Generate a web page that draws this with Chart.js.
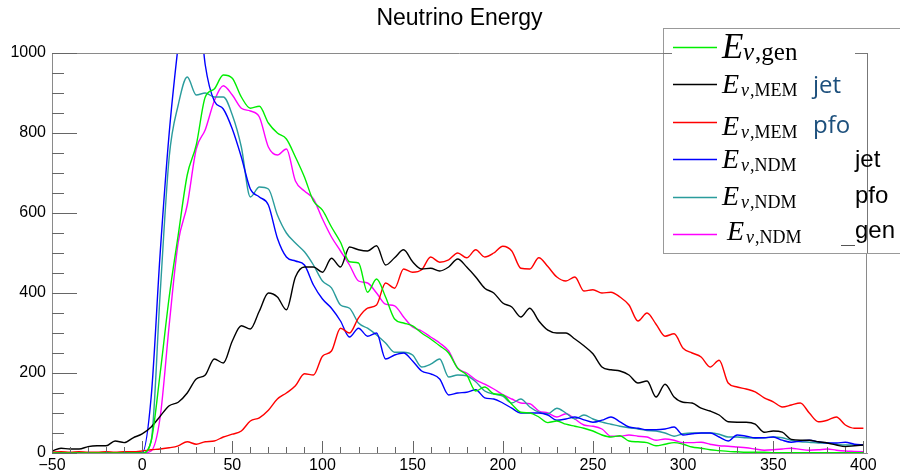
<!DOCTYPE html>
<html>
<head>
<meta charset="utf-8">
<script src="https://cdn.jsdelivr.net/npm/chart.js@4/dist/chart.umd.min.js"></script>
<style>
  html, body { margin: 0; padding: 0; background: #fff; overflow: hidden; }
  #wrap { position: relative; width: 900px; height: 472px; }
  #c { position: absolute; left: 0; top: 0; }
  #leg { position: absolute; left: 0; top: 0; pointer-events: none; }
</style>
</head>
<body>
<div id="wrap">
  <canvas id="c" width="900" height="472"></canvas>
  <svg id="leg" width="900" height="472" xmlns="http://www.w3.org/2000/svg"></svg>
</div>
<script>
// ---------------- DATA ----------------
const chartTitle = 'Neutrino Energy';
const xValues = [-50,-45,-40,-35,-30,-25,-20,-15,-10,-5,
  0,5,10,15,20,25,30,35,40,45,
  50,55,60,65,70,75,80,85,90,95,
  100,105,110,115,120,125,130,135,140,145,
  150,155,160,165,170,175,180,185,190,195,
  200,205,210,215,220,225,230,235,240,245,
  250,255,260,265,270,275,280,285,290,295,
  300,305,310,315,320,325,330,335,340,345,
  350,355,360,365,370,375,380,385,390,395,400];

const genE = [0,0,0,0,0,0,0,0,0,0,
  0,30,200,390,545,695,770,890,910,945,
  937,890,862,867,825,800,785,740,690,630,
  607,565,527,478,475,402,435,390,335,325,
  318,300,285,268,250,212,195,155,165,148,
  145,122,102,100,90,76,80,72,67,62,
  55,45,40,43,30,28,26,18,22,26,
  22,15,12,8,6,4,3,2,2,2,
  1,1,1,1,1,1,1,1,1,1,1];

const memJet = [5,12,10,10,16,18,18,30,26,38,
  48,65,92,118,127,150,185,195,235,225,
  280,318,310,355,400,390,358,440,465,465,
  452,487,465,515,508,505,518,470,488,508,
  478,460,462,455,465,485,465,440,412,400,
  375,365,340,362,330,307,300,300,285,268,
  248,215,208,205,195,175,180,140,172,140,
  127,125,112,105,95,78,77,77,72,52,
  55,52,34,32,32,28,25,20,16,18,20];

const memPfo = [2,3,2,3,2,2,3,2,3,3,
  5,8,10,13,18,28,22,28,30,40,
  47,55,80,88,107,135,150,168,198,195,
  242,255,312,300,338,362,370,425,412,460,
  452,458,490,477,483,500,488,508,490,500,
  517,505,462,460,488,466,440,430,440,405,
  408,400,402,390,370,330,350,322,292,298,
  262,250,240,215,232,175,165,160,153,138,
  128,115,120,125,100,78,82,90,70,62,62];

const ndmJet = [0,0,0,0,0,0,0,0,0,0,
  0,140,500,800,1020,1200,1180,970,880,860,
  810,740,660,640,620,537,490,480,470,420,
  385,362,330,290,312,292,300,235,245,250,
  230,205,198,185,145,150,152,158,138,135,
  125,112,100,100,100,95,82,85,90,83,
  77,82,90,78,65,62,58,58,60,65,
  45,48,50,50,40,30,45,42,38,38,
  40,32,27,30,32,28,25,25,27,22,20];

const ndmPfo = [0,0,0,0,0,0,0,0,0,0,
  0,30,400,740,870,940,895,900,890,890,
  845,765,640,665,660,595,550,525,503,470,
  430,413,370,362,325,312,295,275,252,252,
  245,215,222,235,190,195,193,178,155,147,
  142,125,135,115,102,98,112,100,85,95,
  85,77,72,67,63,60,56,55,50,42,
  48,50,50,50,47,40,40,38,37,38,
  40,38,32,28,27,25,25,22,20,20,20];

const ndmGen = [0,0,0,0,0,0,0,0,0,0,
  0,5,90,320,527,620,760,808,880,918,
  895,862,855,840,765,745,760,680,655,635,
  585,540,505,470,430,425,400,372,368,340,
  315,305,290,275,255,212,200,183,172,160,
  146,135,125,123,105,100,90,98,85,70,
  67,60,42,42,45,42,40,32,35,32,
  26,26,27,22,18,17,15,13,10,7,
  8,10,12,9,7,8,10,7,5,4,3];

const xTickValues = [-50,0,50,100,150,200,250,300,350,400];
const yTickValues = [0,200,400,600,800,1000];

const seriesNames = ['E ν,gen','E ν,MEM jet','E ν,MEM pfo','E ν,NDM jet','E ν,NDM pfo','E ν,NDM gen'];
const legendSub = ['gen','MEM','MEM','NDM','NDM','NDM'];
const legendTag = ['','jet','pfo','jet','pfo','gen'];
const seriesData = [genE, memJet, memPfo, ndmJet, ndmPfo, ndmGen];

// ---------------- STYLES ----------------
const seriesColors = ['#00ee00','#000000','#ff0000','#0000ff','#2a9c9c','#ff00ff'];
const tagColors = ['#000','#1c4f7c','#1c4f7c','#000','#000','#000'];
const tagFonts = ['Liberation Sans','Open Sans','Open Sans','Liberation Sans','Liberation Sans','Liberation Sans'];

const datasets = seriesData.map((arr, i) => ({
  label: seriesNames[i],
  data: xValues.map((x, j) => ({x: x, y: arr[j]})),
  borderColor: seriesColors[i],
  backgroundColor: seriesColors[i],
  borderWidth: 1.4,
  pointRadius: 0,
  fill: false,
  cubicInterpolationMode: 'monotone'
}));

const frameTicks = {
  id: 'frameTicks',
  afterDraw(chart) {
    const {ctx, chartArea, scales} = chart;
    const {left, right, top, bottom} = chartArea;
    ctx.save();
    ctx.strokeStyle = '#8a8a8a';
    ctx.lineWidth = 1;
    ctx.beginPath();
    ctx.moveTo(left, top + 0.5); ctx.lineTo(right, top + 0.5);
    ctx.moveTo(right - 0.5, top); ctx.lineTo(right - 0.5, bottom);
    ctx.stroke();
    ctx.strokeStyle = '#666';
    ctx.beginPath();
    for (let v = xTickValues[0]; v <= xTickValues[xTickValues.length - 1]; v += 10) {
      const px = Math.round(scales.x.getPixelForValue(v)) + 0.5;
      const len = xTickValues.includes(v) ? 12 : 6;
      ctx.moveTo(px, bottom); ctx.lineTo(px, bottom - len);
    }
    for (let v = 0; v <= 1000; v += 50) {
      const py = Math.round(scales.y.getPixelForValue(v)) + 0.5;
      const len = yTickValues.includes(v) ? 25 : 12;
      ctx.moveTo(left, py); ctx.lineTo(left + len, py);
    }
    ctx.stroke();
    ctx.restore();
  }
};

new Chart(document.getElementById('c'), {
  type: 'line',
  data: { datasets },
  options: {
    responsive: false,
    animation: false,
    events: [],
    layout: { padding: { left: 0, right: 33, top: 0, bottom: 0 } },
    plugins: {
      legend: { display: false },
      tooltip: { enabled: false },
      title: {
        display: true,
        text: chartTitle,
        fullSize: false,
        color: '#000',
        font: { family: 'Liberation Sans', size: 23, weight: 'normal', lineHeight: 1.2 },
        padding: { top: 5, bottom: 20.4 }
      }
    },
    scales: {
      x: {
        type: 'linear',
        min: -50, max: 402,
        afterFit: (s) => { s.height = 19; },
        afterBuildTicks: (s) => { s.ticks = xTickValues.map(v => ({value: v})); },
        grid: { display: false, drawTicks: false },
        border: { display: true, color: '#8a8a8a', width: 1 },
        ticks: {
          autoSkip: false,
          maxRotation: 0,
          minRotation: 0,
          padding: 3,
          color: '#000',
          font: { family: 'Liberation Sans', size: 16 },
          callback: (v) => String(v).replace('-', '\u2212')
        }
      },
      y: {
        type: 'linear',
        min: 0, max: 1000,
        afterFit: (s) => { s.width = 52; },
        afterBuildTicks: (s) => { s.ticks = yTickValues.map(v => ({value: v})); },
        grid: { display: false, drawTicks: false },
        border: { display: true, color: '#8a8a8a', width: 1 },
        ticks: {
          autoSkip: false,
          padding: 6,
          color: '#000',
          font: { family: 'Liberation Sans', size: 16 },
          callback: (v) => String(v)
        }
      }
    }
  },
  plugins: [frameTicks]
});

// ---------------- LEGEND (SVG text) ----------------
(function buildLegend() {
  const svg = document.getElementById('leg');
  const NS = 'http://www.w3.org/2000/svg';
  const mk = (tag, attrs, text) => {
    const el = document.createElementNS(NS, tag);
    for (const k in attrs) el.setAttribute(k, attrs[k]);
    if (text !== undefined) el.textContent = text;
    svg.appendChild(el);
    return el;
  };
  mk('rect', {x: 663.5, y: 28.5, width: 250, height: 225, fill: '#fff', stroke: '#999', 'stroke-width': 1});
  // fragments of the pasted frame inside the legend
  mk('line', {x1: 663, y1: 53.5, x2: 672, y2: 53.5, stroke: '#777', 'stroke-width': 1});
  mk('line', {x1: 855, y1: 53.5, x2: 867, y2: 53.5, stroke: '#777', 'stroke-width': 1});
  mk('line', {x1: 867.5, y1: 53, x2: 867.5, y2: 253, stroke: '#777', 'stroke-width': 1});
  mk('line', {x1: 841, y1: 245.5, x2: 855, y2: 245.5, stroke: '#555', 'stroke-width': 1});

  const lineY = [47, 84, 122, 159, 197, 234];
  const baseY = [58, 93, 135, 168, 205, 240];
  const tagY = [0, 93, 133, 167, 203, 238];
  for (let i = 0; i < 6; i++) {
    mk('line', {x1: 673, y1: lineY[i] + 0.5, x2: 717, y2: lineY[i] + 0.5, stroke: seriesColors[i], 'stroke-width': 1.3});
    const big = i === 0;
    const ex = i === 5 ? 727 : 722;
    mk('text', {x: ex, y: baseY[i], 'font-family': 'Liberation Serif', 'font-style': 'italic',
      'font-size': big ? 35 : 28, fill: '#000'}, 'E');
    const t = mk('text', {x: ex + (big ? 21 : 19), y: baseY[i] + (big ? 2 : 3), 'font-family': 'Liberation Serif',
      'font-size': big ? 25 : 18, fill: '#000'});
    const nu = document.createElementNS(NS, 'tspan');
    nu.setAttribute('font-style', 'italic');
    nu.textContent = 'ν';
    t.appendChild(nu);
    const rest = document.createElementNS(NS, 'tspan');
    rest.setAttribute('dx', '1');
    rest.textContent = ',' + legendSub[i];
    t.appendChild(rest);
    if (legendTag[i]) {
      const tx = (i === 1 || i === 2) ? 813 : 855;
      mk('text', {x: tx, y: tagY[i], 'font-family': tagFonts[i], 'font-size': 24, fill: tagColors[i]}, legendTag[i]);
    }
  }
})();
</script>
</body>
</html>
